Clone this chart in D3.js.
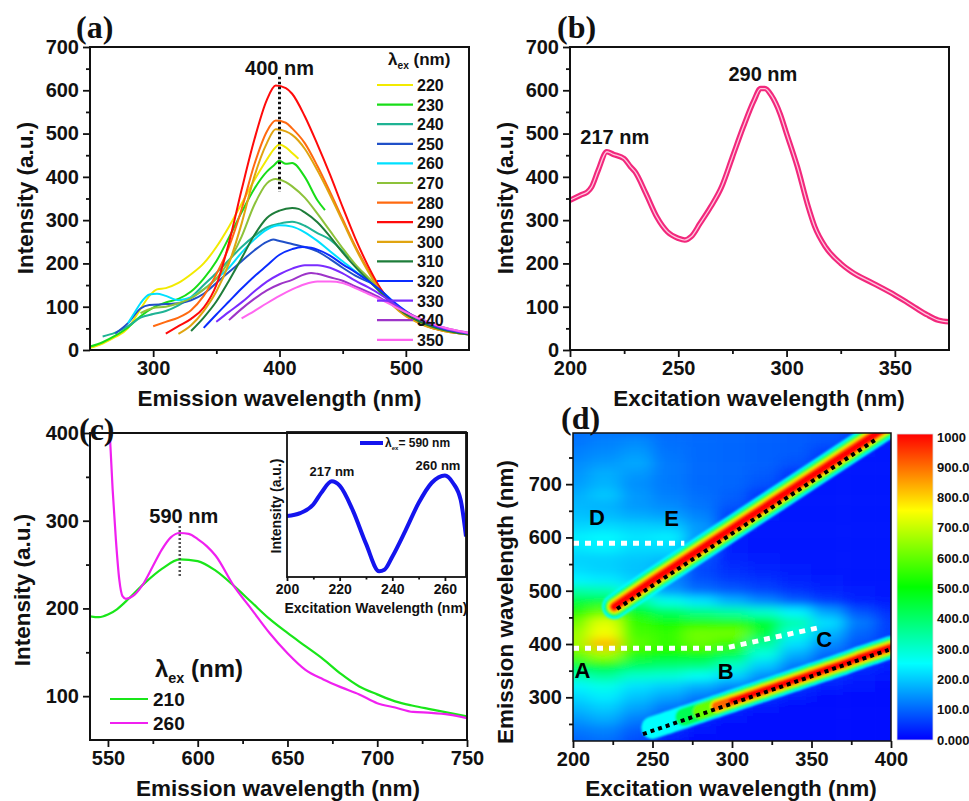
<!DOCTYPE html>
<html><head><meta charset="utf-8">
<script src="https://cdn.jsdelivr.net/npm/d3@7"></script>
<style>
body{margin:0;background:#fff;}
svg text{font-family:"Liberation Sans",Arial,sans-serif;font-weight:bold;fill:#111;}
</style></head><body>
<svg id="fig" width="969" height="801"></svg>
<script>
// ---------------- Panel (a) data: emission spectra for each excitation ----------------
const excitationA = [220,230,240,250,260,270,280,290,300,310,320,330,340,350];
const colorsA = ["#f2ea00","#18dd18","#1fb394","#2050c8","#00e0ff","#8dc23a","#ff6a10","#ff0a0a","#e0a410","#1e7d3a","#0a2cff","#7a2cff","#9d34c8","#ff66f0"];
const a220 = [[250,5],[260,15],[270,30],[280,50],[290,95],[297,125],[303,140],[310,143],[320,155],[330,175],[340,200],[350,238],[360,285],[370,338],[380,392],[390,440],[395,462],[400,475],[405,468],[410,455],[415,442]];
const a230 = [[250,8],[260,18],[270,33],[280,52],[290,78],[300,98],[310,110],[320,118],[330,135],[340,165],[350,205],[360,260],[370,318],[380,372],[390,412],[395,425],[400,437],[405,430],[410,432],[420,400],[430,346],[436,323]];
const a240 = [[260,31],[270,40],[280,55],[290,75],[300,83],[310,90],[320,103],[330,122],[340,150],[350,178],[360,208],[370,238],[380,263],[390,283],[400,292],[410,296],[420,287],[430,270],[440,255],[450,228],[455,212]];
const a250 = [[270,38],[280,62],[290,96],[297,104],[310,106],[320,108],[330,115],[340,130],[350,155],[360,180],[370,205],[380,230],[390,250],[395,255],[400,252],[410,245],[420,238],[430,228],[440,210],[450,190],[460,172],[470,158],[475,152]];
const a260 = [[280,62],[285,85],[290,108],[297,128],[303,130],[310,125],[320,115],[330,122],[340,140],[350,165],[360,190],[370,225],[380,255],[390,278],[400,288],[410,285],[420,272],[430,252],[440,228],[450,205],[460,182],[470,160],[480,138],[490,112],[500,88],[510,72],[520,60],[530,50],[540,43],[550,38]];
const a270 = [[290,85],[300,97],[310,100],[320,108],[330,120],[340,140],[350,165],[360,205],[370,262],[380,335],[390,385],[397,395],[405,388],[410,378],[420,352],[430,315],[440,275],[450,235],[460,198],[470,168],[480,138],[490,108],[500,85],[510,68],[520,57],[530,48],[540,42],[550,38]];
const a280 = [[300,55],[310,65],[320,75],[330,92],[340,125],[350,175],[360,238],[370,325],[380,428],[390,505],[397,530],[405,525],[410,512],[420,478],[430,425],[440,365],[450,302],[460,240],[470,186],[480,140],[490,105],[500,80],[510,64],[520,52],[530,44],[540,39],[550,36]];
const a290 = [[310,38],[320,55],[330,72],[340,98],[350,150],[360,248],[370,370],[380,485],[390,578],[397,611],[405,605],[410,592],[420,540],[430,475],[440,405],[450,330],[460,258],[470,195],[480,142],[490,104],[500,80],[510,64],[520,52],[530,45],[540,40],[550,37]];
const a300 = [[320,37],[330,57],[340,90],[350,135],[360,200],[370,292],[380,400],[390,478],[397,510],[405,505],[410,497],[420,465],[430,415],[440,358],[450,297],[460,236],[470,182],[480,136],[490,102],[500,78],[510,63],[520,51],[530,44],[540,39],[550,36]];
const a310 = [[330,44],[340,75],[350,112],[360,160],[370,212],[380,265],[390,305],[400,322],[410,328],[415,326],[420,318],[430,295],[440,262],[450,225],[460,192],[470,162],[480,133],[490,106],[500,83],[510,67],[520,55],[530,46],[540,40],[550,36]];
const a320 = [[340,51],[350,82],[360,112],[370,142],[380,170],[390,195],[400,220],[410,233],[418,238],[425,236],[430,232],[440,218],[450,198],[460,180],[470,160],[480,138],[490,112],[500,90],[510,72],[520,59],[530,49],[540,43],[550,38]];
const a330 = [[350,65],[360,88],[370,110],[380,135],[390,158],[400,175],[410,188],[420,196],[430,196],[440,190],[450,177],[460,160],[470,145],[480,128],[490,108],[500,88],[510,72],[520,60],[530,50],[540,43],[550,38]];
const a340 = [[360,69],[370,95],[380,118],[390,138],[400,152],[410,162],[420,175],[425,178],[430,176],[440,168],[450,160],[460,147],[470,134],[480,120],[490,104],[500,88],[510,74],[520,62],[530,52],[540,45],[550,40]];
const a350 = [[370,73],[380,90],[390,108],[400,125],[410,140],[420,152],[430,158],[440,158],[450,155],[460,143],[470,130],[480,117],[490,102],[500,87],[510,73],[520,62],[530,52],[540,45],[550,39]];
const seriesA = [a220,a230,a240,a250,a260,a270,a280,a290,a300,a310,a320,a330,a340,a350];
const peakMarkA = [[400,631],[400,365]];

// ---------------- Panel (b) data: excitation spectrum ----------------
const exB = [200,205,208,210,213,217,220,225,228,230,235,240,245,250,253,256,260,265,270,275,280,285,288,290,293,297,300,305,310,313,318,325,330,340,350,355,360,365,370,375];
const intB = [346,358,365,377,415,458,452,442,423,412,362,308,273,258,254,262,292,331,377,446,515,577,604,604,588,546,500,423,331,285,238,200,181,154,127,112,96,81,69,65];

// ---------------- Panel (c) data ----------------
const c210 = [[540,191],[545,190],[550,193],[555,199],[560,208],[570,228],[580,245],[590,256],[600,254],[610,243],[620,226],[630,207],[640,188],[650,172],[660,157],[670,142],[680,125],[690,111],[700,102],[710,94],[720,89],[730,85],[740,81],[750,77]];
const c260 = [[550.5,420],[552.6,336],[554.4,279],[556.3,233],[558.1,214],[560,211],[565,216],[570,229],[575,248],[580,267],[585,281],[590,286],[595,285],[600,279],[605,271],[610,260],[620,226],[630,199],[640,172],[650,149],[660,130],[670,119],[680,110],[690,102],[700,92],[710,87],[720,82],[730,81],[740,79],[750,75]];
const peakMarkC = [[590,294],[590,235]];
const insetEx = [200,205,210,213,217,220,225,230,235,237,240,245,250,255,260,263,266,268];
const insetInt = [42,44,50,58,66,63,46,23,4,5,14,32,51,65,70,65,53,28];

// ---------------- Panel (d) data: excitation-emission map ----------------
const dEx = [200,220,240,260,280,300,320,340,360,380,400];
const dEm = [800,780,760,740,720,700,680,660,640,620,600,580,560,540,520,500,480,460,440,420,400,380,360,340,320,300,280,260,240,220];
const dGrid = [
 [110,115,110,105,100,100,95,90,85,70,30],
 [115,125,135,110,105,100,95,90,80,45,20],
 [125,135,150,115,105,100,95,90,60,25,20],
 [135,150,165,120,105,100,95,80,35,20,20],
 [145,170,150,120,105,100,90,50,22,20,20],
 [155,175,140,120,105,100,80,30,20,20,20],
 [170,195,150,125,110,95,50,22,20,20,20],
 [180,175,150,135,115,85,35,20,20,20,20],
 [190,185,170,160,130,60,25,20,20,20,20],
 [210,215,205,200,150,40,22,20,20,20,20],
 [235,245,225,235,150,30,22,20,20,20,20],
 [225,235,215,215,110,30,24,20,20,20,20],
 [205,205,195,185,80,35,28,22,20,20,20],
 [215,205,190,160,70,45,35,28,22,20,20],
 [240,230,205,130,80,60,48,35,25,20,20],
 [340,330,250,150,110,90,70,50,35,25,20],
 [440,450,350,270,225,175,135,95,60,35,25],
 [530,600,470,410,370,340,300,240,160,80,45],
 [610,720,550,510,530,530,460,330,220,120,60],
 [650,740,570,550,610,610,440,280,180,100,60],
 [660,820,590,550,600,550,350,220,140,80,50],
 [590,660,530,500,500,430,280,170,100,60,40],
 [440,480,410,390,380,310,200,120,70,45,30],
 [320,350,300,290,260,210,140,80,50,30,20],
 [240,270,220,200,170,130,80,50,30,20,15],
 [210,230,190,160,120,80,45,25,15,10,10],
 [180,200,160,115,70,35,18,10,10,10,10],
 [150,170,125,80,35,18,10,10,10,10,10],
 [120,130,95,45,18,10,10,10,10,10,10],
 [100,110,75,25,10,10,10,10,10,10,10]
];
const lowerBandEx = [240,250,260,270,280,290,300,310,320,330,340,350,360,370,380,390,400];
const lowerBandEm = [233,243,253,263,273,283,293,303,313,323,333,343,353,363,374,384,394];
const lowerBandPeak = [150,260,380,520,700,900,1000,1000,1000,1000,1000,1000,1000,1000,1000,1000,1000];
const upperBandEx = [226,250,275,300,325,350,375,400];
const upperBandEm = [470,519,568,617,666,715,764,813];
const lowerDots = [[244,231],[398.5,389]];
const upperDots = [[227.7,466],[391.6,786]];
const lineDE = [[200,589],[270,589]];
const lineABC = [[200,392],[295,392],[355,431]];
const pointLabels = [{t:"A",ex:206,em:352},{t:"B",ex:296,em:349},{t:"C",ex:358,em:409},{t:"D",ex:215,em:638},{t:"E",ex:262,em:636}];
const cbTicks = ["1000","900.0","800.0","700.0","600.0","500.0","400.0","300.0","200.0","100.0","0.000"];
const cbStops = [0,250,500,750,1000];
const cbColors = ["#0000ff","#00ffff","#00ff00","#ffff00","#ff0000"];

// ---------------- drawing ----------------
const svg = d3.select("#fig");
const defs = svg.append("defs");
const FONT = "'Liberation Sans', Arial, sans-serif";
const SERIF = "'Liberation Serif','Times New Roman',serif";

function makePanel(c){
  const x = d3.scaleLinear().domain(c.xDomain).range([c.l,c.r]);
  const y = d3.scaleLinear().domain(c.yDomain).range([c.b,c.t]);
  defs.append("clipPath").attr("id","clip-"+c.id).append("rect")
    .attr("x",c.l).attr("y",c.t).attr("width",c.r-c.l).attr("height",c.b-c.t);
  const plot = svg.append("g").attr("clip-path",`url(#clip-${c.id})`);
  return {x,y,plot,c};
}
function styleAxis(g, fs){
  g.select(".domain").remove();
  g.selectAll("line").attr("stroke","#111").attr("stroke-width",1.8);
  g.selectAll("text").attr("font-size",fs).attr("font-family",FONT).attr("font-weight","bold").attr("fill","#111");
}
function drawAxes(p,o){
  const {x,y,c} = p;
  const fs = o.fs||20, maj=o.maj||7, min=o.min||4;
  const gx1 = svg.append("g").attr("transform",`translate(0,${c.b})`)
    .call(d3.axisBottom(x).tickValues(o.xMinor).tickSize(min).tickFormat(""));
  styleAxis(gx1,fs);
  const gx = svg.append("g").attr("transform",`translate(0,${c.b})`)
    .call(d3.axisBottom(x).tickValues(o.xMajor).tickSize(maj).tickPadding(o.xPad||4).tickFormat(d3.format("d")));
  styleAxis(gx,fs);
  if(o.yMajor){
    const gy1 = svg.append("g").attr("transform",`translate(${c.l},0)`)
      .call(d3.axisLeft(y).tickValues(o.yMinor).tickSize(min).tickFormat(""));
    styleAxis(gy1,fs);
    const gy = svg.append("g").attr("transform",`translate(${c.l},0)`)
      .call(d3.axisLeft(y).tickValues(o.yMajor).tickSize(maj).tickPadding(o.yPad||4).tickFormat(d3.format("d")));
    styleAxis(gy,fs);
  }
  svg.append("rect").attr("x",c.l).attr("y",c.t).attr("width",c.r-c.l).attr("height",c.b-c.t)
    .attr("fill","none").attr("stroke","#111").attr("stroke-width",o.frame||2);
}
function title(x,y,txt,fs,rot){
  const t = svg.append("text").attr("font-size",fs).attr("text-anchor","middle").text(txt);
  if(rot) t.attr("transform",`translate(${x},${y}) rotate(-90)`); else t.attr("x",x).attr("y",y);
  return t;
}
function panelLabel(x,y,txt){
  svg.append("text").attr("x",x).attr("y",y).attr("font-size",32)
    .style("font-family",SERIF).style("font-weight","bold").text(txt);
}
function lambdaLabel(x,y,fs,rest){
  const t = svg.append("text").attr("x",x).attr("y",y).attr("font-size",fs);
  t.append("tspan").text("λ");
  t.append("tspan").attr("font-size",fs*0.6).attr("dy",fs*0.25).text("ex");
  t.append("tspan").attr("dy",-fs*0.25).text(rest);
}

// ===== Panel (a) =====
const pa = makePanel({id:"a",l:90,r:469,t:47,b:350,xDomain:[250,550],yDomain:[0,700]});
const lineA = d3.line().x(d=>pa.x(d[0])).y(d=>pa.y(d[1])).curve(d3.curveMonotoneX);
seriesA.forEach((s,i)=>{
  pa.plot.append("path").attr("d",lineA(s)).attr("fill","none").attr("stroke",colorsA[i]).attr("stroke-width",2);
});
pa.plot.append("path").attr("d",d3.line().x(d=>pa.x(d[0])).y(d=>pa.y(d[1]))(peakMarkA))
  .attr("stroke","#111").attr("stroke-width",3).attr("stroke-dasharray","2.5 2.5");
drawAxes(pa,{xMajor:[300,400,500],xMinor:[350,450],yMajor:d3.range(0,701,100),yMinor:d3.range(50,700,100)});
svg.append("text").attr("x",pa.x(400)).attr("y",75).attr("font-size",20).attr("text-anchor","middle").text("400 nm");
lambdaLabel(388,65,17," (nm)");
excitationA.forEach((e,i)=>{
  const yy = 85 + i*19.6;
  svg.append("line").attr("x1",377).attr("x2",413).attr("y1",yy).attr("y2",yy).attr("stroke",colorsA[i]).attr("stroke-width",2.2);
  svg.append("text").attr("x",417).attr("y",yy+6).attr("font-size",16).text(e);
});
title(279.5,406,"Emission wavelength (nm)",22.5);
title(33,198,"Intensity (a.u.)",22.5,true);
panelLabel(76,38,"(a)");

// ===== Panel (b) =====
const pb = makePanel({id:"b",l:570,r:949,t:47,b:350,xDomain:[200,375],yDomain:[0,700]});
const lineB = d3.line().x((d,i)=>pb.x(exB[i])).y((d,i)=>pb.y(intB[i])).curve(d3.curveMonotoneX);
pb.plot.append("path").attr("d",lineB(exB)).attr("fill","none").attr("stroke","#f2287c").attr("stroke-width",5.5);
pb.plot.append("path").attr("d",lineB(exB)).attr("fill","none").attr("stroke","#ffc6de").attr("stroke-width",1.3);
drawAxes(pb,{xMajor:[200,250,300,350],xMinor:[225,275,325],yMajor:d3.range(0,701,100),yMinor:d3.range(50,700,100)});
svg.append("text").attr("x",pb.x(217)+8).attr("y",144).attr("font-size",20).attr("text-anchor","middle").text("217 nm");
svg.append("text").attr("x",pb.x(290)-2).attr("y",81).attr("font-size",20).attr("text-anchor","middle").text("290 nm");
title(759,406,"Excitation wavelength (nm)",22.5);
title(513,198,"Intensity (a.u.)",22.5,true);
panelLabel(557,38,"(b)");

// ===== Panel (c) =====
const pc = makePanel({id:"c",l:90,r:467,t:433,b:740,xDomain:[540,750],yDomain:[50,400]});
const lineC = d3.line().x(d=>pc.x(d[0])).y(d=>pc.y(d[1])).curve(d3.curveMonotoneX);
pc.plot.append("path").attr("d",lineC(c210)).attr("fill","none").attr("stroke","#19e619").attr("stroke-width",2.2);
pc.plot.append("path").attr("d",lineC(c260)).attr("fill","none").attr("stroke","#f020f0").attr("stroke-width",2.2);
pc.plot.append("path").attr("d",d3.line().x(d=>pc.x(d[0])).y(d=>pc.y(d[1]))(peakMarkC))
  .attr("stroke","#555").attr("stroke-width",2.5).attr("stroke-dasharray","2 2");
svg.append("text").attr("x",pc.x(590)+4).attr("y",523).attr("font-size",20).attr("text-anchor","middle").text("590 nm");
lambdaLabel(155,677,24," (nm)");
[["210","#19e619"],["260","#f020f0"]].forEach((d,i)=>{
  const yy = 699 + i*24;
  svg.append("line").attr("x1",110).attr("x2",148).attr("y1",yy).attr("y2",yy).attr("stroke",d[1]).attr("stroke-width",2.2);
  svg.append("text").attr("x",153).attr("y",yy+7).attr("font-size",19).text(d[0]);
});

// inset
const pi = makePanel({id:"i",l:287,r:466,t:432,b:577,xDomain:[200,268],yDomain:[0,100]});
svg.append("rect").attr("x",287).attr("y",432).attr("width",179).attr("height",145).attr("fill","#fff");
const lineI = d3.line().x((d,i)=>pi.x(insetEx[i])).y((d,i)=>pi.y(insetInt[i])).curve(d3.curveMonotoneX);
const gI = svg.append("g").attr("clip-path","url(#clip-i)");
gI.append("path").attr("d",lineI(insetEx)).attr("fill","none").attr("stroke","#1414ee").attr("stroke-width",4);
svg.append("line").attr("x1",360).attr("x2",383).attr("y1",443).attr("y2",443).attr("stroke","#1414ee").attr("stroke-width",4);
(function(){
  const t = svg.append("text").attr("x",385).attr("y",447).attr("font-size",12);
  t.append("tspan").text("λ");
  t.append("tspan").attr("font-size",6).attr("dy",3).text("ex");
  t.append("tspan").attr("dy",-3).text("= 590 nm");
})();
svg.append("text").attr("x",332).attr("y",476).attr("font-size",13).attr("text-anchor","middle").text("217 nm");
svg.append("text").attr("x",438).attr("y",470).attr("font-size",13).attr("text-anchor","middle").text("260 nm");
drawAxes(pi,{fs:14,maj:4,min:2.5,xPad:3,xMajor:[200,220,240,260],xMinor:[210,230,250],frame:1.8});
title(376,613,"Excitation Wavelength (nm)",14);
title(281,506,"Intensity (a.u.)",14,true);

// main axes for (c) drawn after inset
drawAxes(pc,{xMajor:[550,600,650,700,750],xMinor:[575,625,675,725],yMajor:[100,200,300,400],yMinor:[150,250,350]});
title(278,796,"Emission wavelength (nm)",22.5);
title(30,590,"Intensity (a.u.)",22.5,true);
panelLabel(79,440,"(c)");

// ===== Panel (d) =====
const pd = makePanel({id:"d",l:573,r:891,t:433,b:741,xDomain:[200,400],yDomain:[218,796]});
const color = d3.scaleLinear().domain(cbStops).range(cbColors).clamp(true);
const blur = defs.append("filter").attr("id","blurD").attr("x","-20%").attr("y","-20%").attr("width","140%").attr("height","140%");
blur.append("feGaussianBlur").attr("stdDeviation","8 4.5");
const blur2 = defs.append("filter").attr("id","blurB").attr("x","-20%").attr("y","-20%").attr("width","140%").attr("height","140%");
blur2.append("feGaussianBlur").attr("stdDeviation","1");
const cellG = pd.plot.append("g").attr("filter","url(#blurD)");
dGrid.forEach((row,ri)=>{
  row.forEach((v,ci)=>{
    const ex = dEx[ci], em = dEm[ri];
    let x0 = pd.x(ex-10), x1 = pd.x(ex+10), y0 = pd.y(em+10), y1 = pd.y(em-10);
    if(ci===0) x0 -= 40; if(ci===row.length-1) x1 += 40;
    if(ri===0) y0 -= 40; if(ri===dGrid.length-1) y1 += 40;
    cellG.append("rect").attr("x",x0).attr("y",y0).attr("width",x1-x0+0.5).attr("height",y1-y0+0.5).attr("fill",color(v));
  });
});
// scatter bands
const bandLevels = [{v:250,w:25},{v:420,w:20},{v:600,w:16},{v:760,w:13},{v:900,w:10},{v:1000,w:7}];
const bandG = pd.plot.append("g").attr("filter","url(#blurB)");
bandLevels.forEach(L=>{
  for(let i=0;i<lowerBandEx.length-1;i++){
    const pk = Math.min(lowerBandPeak[i],lowerBandPeak[i+1]);
    if(pk < L.v) continue;
    bandG.append("line").attr("x1",pd.x(lowerBandEx[i])).attr("y1",pd.y(lowerBandEm[i]))
      .attr("x2",pd.x(lowerBandEx[i+1])).attr("y2",pd.y(lowerBandEm[i+1]))
      .attr("stroke",color(L.v)).attr("stroke-width",L.w*0.9).attr("stroke-linecap","round");
  }
  const up = d3.line().x((d,i)=>pd.x(upperBandEx[i])).y((d,i)=>pd.y(upperBandEm[i]));
  bandG.append("path").attr("d",up(upperBandEx)).attr("fill","none").attr("stroke",color(L.v))
    .attr("stroke-width",L.w).attr("stroke-linecap","round").attr("stroke-linejoin","round");
});
const straight = d3.line().x(d=>pd.x(d[0])).y(d=>pd.y(d[1]));
[lowerDots,upperDots].forEach(d=>{
  pd.plot.append("path").attr("d",straight(d)).attr("stroke","#000").attr("stroke-width",4).attr("stroke-dasharray","4 4").attr("fill","none");
});
[lineDE,lineABC].forEach(d=>{
  pd.plot.append("path").attr("d",straight(d)).attr("stroke","#fff").attr("stroke-width",5).attr("stroke-dasharray","6 6").attr("fill","none");
});
pointLabels.forEach(p=>{
  svg.append("text").attr("x",pd.x(p.ex)).attr("y",pd.y(p.em)+8).attr("text-anchor","middle")
    .attr("font-size",22).style("fill","#000").text(p.t);
});
drawAxes(pd,{xMajor:[200,250,300,350,400],xMinor:[225,275,325,375],yMajor:[300,400,500,600,700],yMinor:[250,350,450,550,650,750],frame:1.5});
title(731,796,"Excitation wavelength (nm)",22.5);
title(513,602,"Emission wavelength (nm)",22.5,true);
panelLabel(561,429,"(d)");

// colorbar
const grad = defs.append("linearGradient").attr("id","cbGrad").attr("x1",0).attr("y1",1).attr("x2",0).attr("y2",0);
cbStops.forEach((s,i)=>grad.append("stop").attr("offset",s/1000).attr("stop-color",cbColors[i]));
svg.append("rect").attr("x",897).attr("y",434).attr("width",36).attr("height",306).attr("fill","url(#cbGrad)")
  .attr("stroke","#ddd").attr("stroke-width",0.8);
cbTicks.forEach((t,i)=>{
  svg.append("text").attr("x",937).attr("y",437+i*30.3+4.5).attr("font-size",13).text(t);
});
</script>
</body></html>
